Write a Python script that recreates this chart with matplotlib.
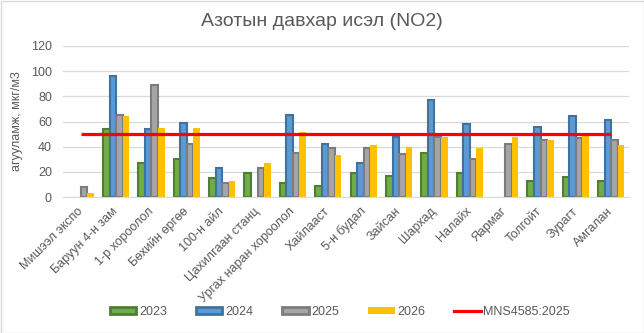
import numpy as np
import matplotlib
matplotlib.use("Agg")
import matplotlib.pyplot as plt
from matplotlib.patches import Patch, Rectangle
from matplotlib.lines import Line2D

plt.rcParams['font.family'] = ['Liberation Sans', 'DejaVu Sans']

categories = ["Мишээл экспо", "Баруун 4-н зам", "1-р хороолол", "Бөхийн өргөө",
              "100-н айл", "Цахилгаан станц", "Ургах наран хороолол", "Хайлааст",
              "5-н будал", "Зайсан", "Шархад", "Налайх", "Яармаг", "Толгойт",
              "Зурагт", "Амгалан"]
nan = np.nan
v2023 = [nan, 54, 27, 30, 15, 19, 11, 9, 19, 17, 35, 19, nan, 13, 16, 13]
v2024 = [nan, 96, 54, 59, 23, nan, 65, 42, 27, 48, 77, 58, nan, 56, 64, 61]
v2025 = [8, 65, 89, 42, 11, 23, 35, 39, 39, 34, 48, 30, 42, 45, 47, 45]
v2026 = [3, 64, 55, 55, 13, 27, 52, 33, 41, 40, 48, 39, 48, 45, 49, 41]
standard = [50] * len(categories)
series_labels = ["2023", "2024", "2025", "2026"]
standard_label = "MNS4585:2025"

title = "Азотын давхар исэл (NO2)"
ylabel = "агууламж, мкг/м3"

faces = ["#70AD47", "#5B9BD5", "#A5A5A5", "#FFC000"]
edges = ["#507E32", "#41719C", "#7C7C7C", "#FFC000"]
lws = [1.5, 1.5, 1.5, 0]

fig = plt.figure(figsize=(6.44, 3.33), dpi=100)
ax = fig.add_axes([63/644, 1-197/333, (629-63)/644, (197-46)/333])

x = np.arange(len(categories))
w = 0.185
offsets = [-1.5*w, -0.5*w, 0.5*w, 1.5*w]
for vals, off, fc, ec, lw in zip([v2023, v2024, v2025, v2026], offsets, faces, edges, lws):
    ax.bar(x + off, np.array(vals, dtype=float), width=w, color=fc,
           edgecolor=ec, linewidth=lw, zorder=2)

ax.plot(x, standard, color="#FF0000", lw=2.3, zorder=3, solid_capstyle='butt')

ax.set_xlim(-0.5, len(categories) - 0.5)
ax.set_ylim(0, 120)
ax.set_yticks(np.arange(0, 121, 20))
ax.grid(axis='y', color="#D9D9D9", lw=0.9, zorder=0)
ax.set_axisbelow(True)
for s in ['left', 'right', 'top']:
    ax.spines[s].set_visible(False)
ax.spines['bottom'].set_color("#D9D9D9")
ax.tick_params(axis='both', length=0, colors="#595959", labelsize=9)
ax.tick_params(axis='y', pad=8)
ax.set_xticks(x)
ax.set_xticklabels(categories, rotation=45, ha='right', rotation_mode='anchor',
                   va='center', fontsize=9, color="#595959")
ax.tick_params(axis='x', pad=9)

ax.set_ylabel(ylabel, fontsize=9, color="#595959", labelpad=6)
fig.text(322/644, 1-22/333, title, ha='center', va='center', fontsize=14, color="#595959")

handles = [Patch(facecolor=fc, edgecolor=ec, linewidth=2.0 if lw else 0) for fc, ec, lw in zip(faces, edges, lws)]
handles.append(Line2D([], [], color="#FF0000", lw=2.3))
leg = fig.legend(handles, series_labels + [standard_label], loc='center',
                 bbox_to_anchor=(340/644, 1-312/333), ncol=5, frameon=False,
                 fontsize=9, handlelength=2.1, handleheight=0.5, handletextpad=0.2,
                 columnspacing=2.35)
for t in leg.get_texts():
    t.set_color("#595959")

fig.patches.append(Rectangle((0.5/644, 0.5/333), 1-1/644, 1-1/333, transform=fig.transFigure,
                             fill=False, edgecolor="#D9D9D9", lw=1))

fig.savefig("out.png", dpi=100)
